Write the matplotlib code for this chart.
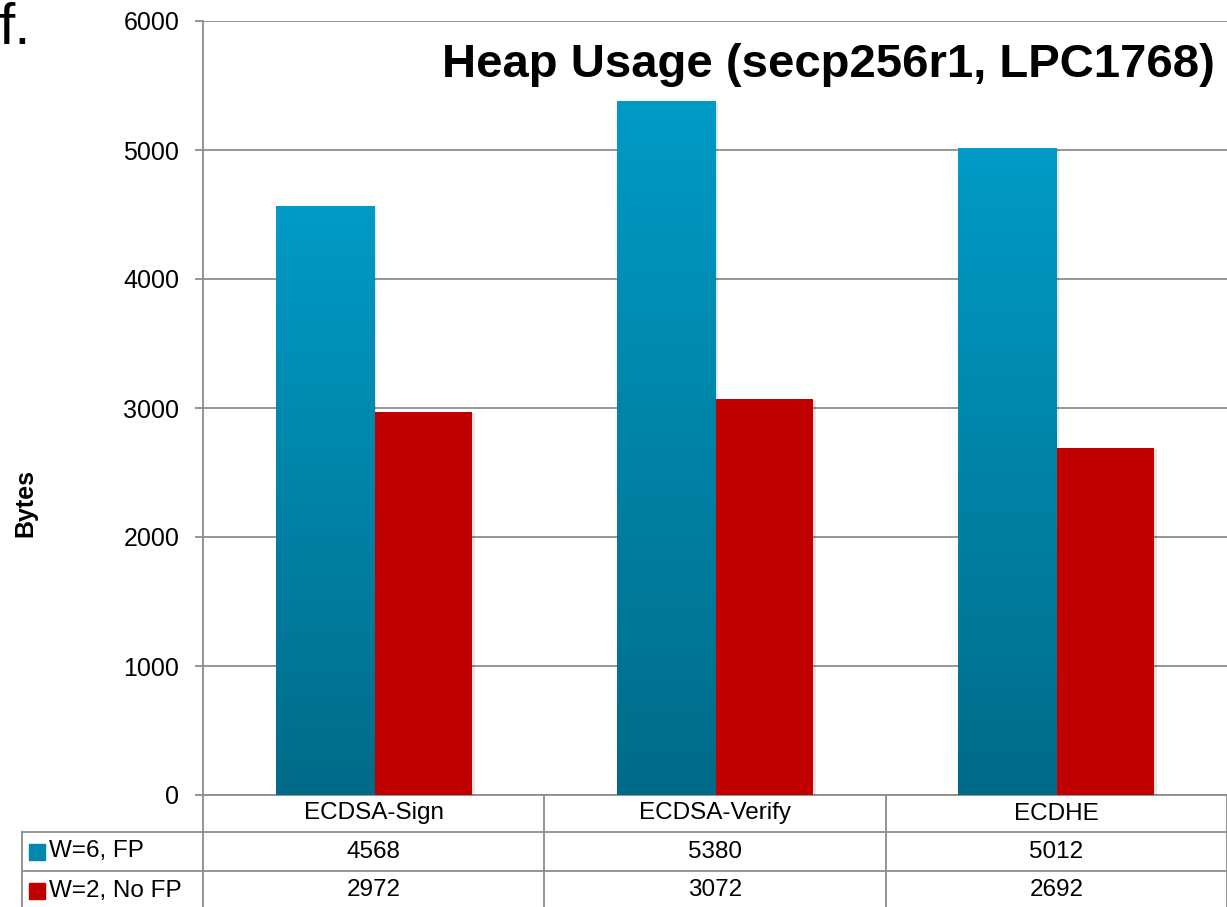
import matplotlib
matplotlib.use('Agg')
import matplotlib.pyplot as plt
import matplotlib.transforms as mtransforms
import matplotlib.patheffects as pe
from matplotlib import font_manager
from matplotlib.colors import LinearSegmentedColormap
import numpy as np

categories = ['ECDSA-Sign', 'ECDSA-Verify', 'ECDHE']
series_names = ['W=6, FP', 'W=2, No FP']
fp_values = [4568, 5380, 5012]
nofp_values = [2972, 3072, 2692]
yticks = [0, 1000, 2000, 3000, 4000, 5000, 6000]

plt.rcParams['font.family'] = ['Liberation Sans', 'DejaVu Sans']

names = {f.name for f in font_manager.fontManager.ttflist}
if 'Liberation Sans Narrow' in names:
    title_font, title_size = ['Liberation Sans Narrow', 'DejaVu Sans'], 42
else:
    title_font, title_size = ['Liberation Sans', 'DejaVu Sans'], 34

W, H = 1227, 907
fig = plt.figure(figsize=(W / 100, H / 100), dpi=100)
ax = fig.add_axes([203 / W, 1 - 795 / H, 1 - 203 / W, (795 - 21) / H])

grid_col = '#8c8c8c'
blue_top, blue_bot = '#009bc6', '#006b88'
red = '#c00000'
blue_cmap = LinearSegmentedColormap.from_list('bl', [blue_bot, blue_top])

idx = np.arange(len(categories))
w = 98 / 341
shadow = [pe.SimplePatchShadow(offset=(2, -1), shadow_rgbFace='k', alpha=0.1), pe.Normal()]

blue_bars = ax.bar(idx - w / 2, fp_values, w, color=blue_top, zorder=3, path_effects=shadow)
red_bars = ax.bar(idx + w / 2, nofp_values, w, color=red, zorder=3, path_effects=shadow)

# vertical gradient on the blue bars
grad = np.linspace(0, 1, 256).reshape(-1, 1)
for b in blue_bars:
    x0, y0 = b.get_x(), b.get_y()
    im = ax.imshow(grad, cmap=blue_cmap, origin='lower', aspect='auto',
                   extent=[x0, x0 + b.get_width(), y0, y0 + b.get_height()], zorder=4)
    im.set_clip_path(b)

ax.set_xlim(-0.5, 2.5)
ax.set_ylim(0, 6000)
ax.set_yticks(yticks)
ax.set_xticks([])
ax.yaxis.grid(True, color=grid_col, lw=1.3)
ax.set_axisbelow(True)
for s in ['top', 'right']:
    ax.spines[s].set_visible(False)
for s in ['left', 'bottom']:
    ax.spines[s].set_color(grid_col)
    ax.spines[s].set_linewidth(1.3)
ax.tick_params(axis='y', length=6, width=1.3, color=grid_col, labelsize=18, pad=11)

# data table below the axes
trans = mtransforms.blended_transform_factory(ax.transData, ax.transAxes)
ah = 774
r1, r2, r3 = -37 / ah, -76 / ah, -115 / ah
left = -0.5 - (203 - 22) / 341
lk = dict(color=grid_col, lw=1.3, transform=trans, clip_on=False)
for xv in [-0.5, 0.5, 1.5, 2.5]:
    ax.plot([xv, xv], [0, r3], **lk)
ax.plot([left, left], [r1, r3], **lk)
for yv in [r1, r2]:
    ax.plot([left, 2.5], [yv, yv], **lk)

for i, c in enumerate(categories):
    ax.text(i, (0 + r1) / 2, c, transform=trans, ha='center', va='center', fontsize=17.5)
    ax.text(i, (r1 + r2) / 2, str(fp_values[i]), transform=trans, ha='center', va='center', fontsize=17.5)
    ax.text(i, (r2 + r3) / 2, str(nofp_values[i]), transform=trans, ha='center', va='center', fontsize=17.5)

sw_x = -0.5 - (203 - 37.5) / 341
tx = -0.5 - (203 - 49) / 341
for yc, col, name in [((r1 + r2) / 2, '#0088ad', series_names[0]), ((r2 + r3) / 2, red, series_names[1])]:
    ax.plot([sw_x], [yc], marker='s', ms=11, color=col, transform=trans, clip_on=False)
    ax.text(tx, yc, name, transform=trans, ha='left', va='center', fontsize=17.5)

fig.text(25 / W, 1 - 503 / H, 'Bytes', rotation=90, ha='center', va='center',
         fontsize=18, fontweight='bold')
fig.text(1215 / W, 1 - 77 / H, 'Heap Usage (secp256r1, LPC1768)', ha='right', va='baseline',
         fontsize=title_size, fontweight='bold', family=title_font)
fig.text(-2 / W, 1 - 44 / H, 'f.', ha='left', va='baseline', fontsize=42)

fig.savefig('out.png', dpi=100)
